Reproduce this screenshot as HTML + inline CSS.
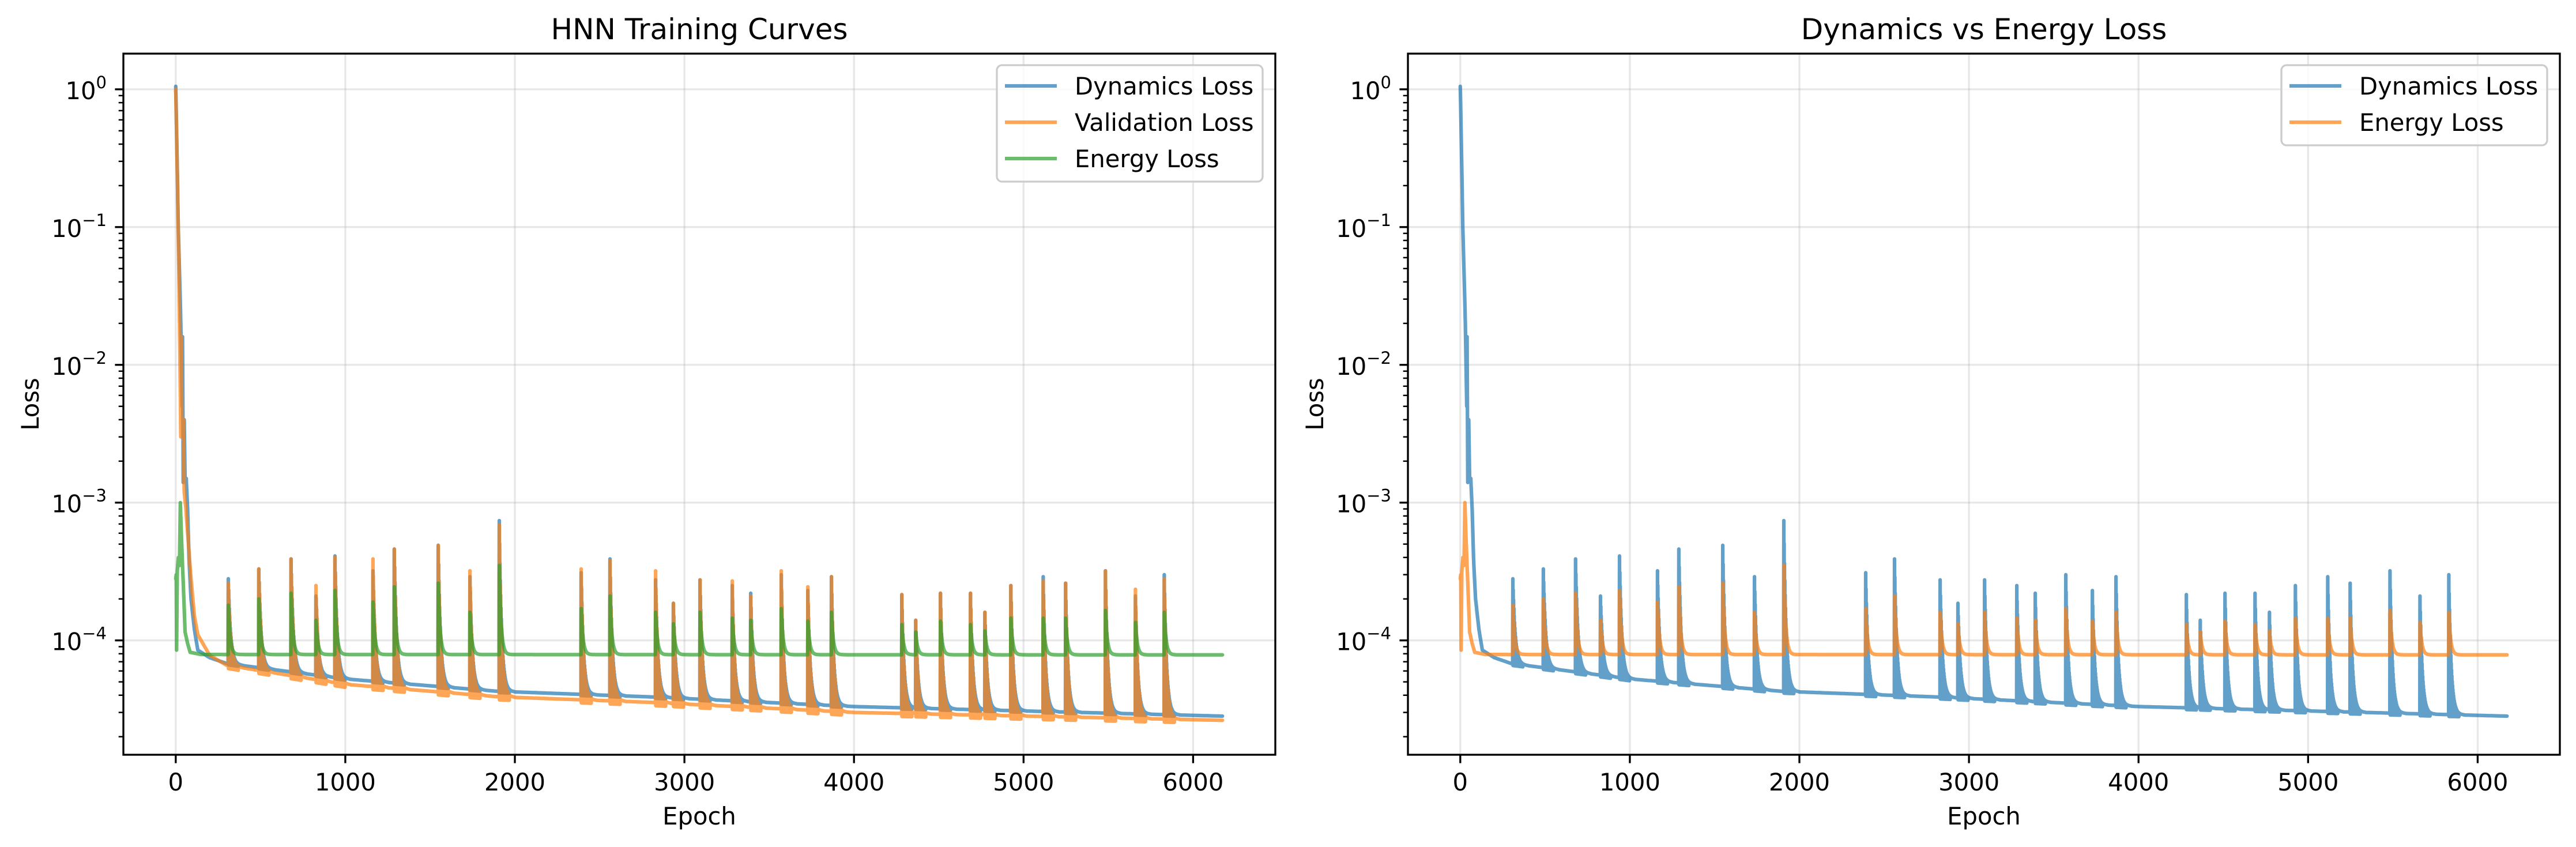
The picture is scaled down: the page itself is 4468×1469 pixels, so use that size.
<!DOCTYPE html>
<html><head><meta charset="utf-8"><title>HNN Training Curves</title>
<style>
html,body{margin:0;padding:0;background:#fff;}
svg{display:block;font-family:"DejaVu Sans","Liberation Sans",sans-serif;}
</style></head>
<body>
<svg id="fig" xmlns="http://www.w3.org/2000/svg" width="4468" height="1469" viewBox="0 0 4468 1469">
<rect width="4468" height="1469" fill="#fff"/>
</svg>
<script>
// ---- data ----
const spikeEpochs = [310,490,680,827,939,1163,1289,1548,1735,1908,2391,2561,2830,2935,3092,3282,3391,3571,3728,3867,4282,4364,4510,4687,4772,4925,5116,5248,5483,5660,5830];
const dynPeaks = [2.8e-4,3.3e-4,3.9e-4,2.1e-4,4.1e-4,3.2e-4,4.6e-4,4.9e-4,2.9e-4,7.4e-4,3.1e-4,3.9e-4,2.75e-4,1.86e-4,2.75e-4,2.5e-4,2.2e-4,3.0e-4,2.3e-4,2.9e-4,2.15e-4,1.4e-4,2.2e-4,2.2e-4,1.6e-4,2.5e-4,2.9e-4,2.6e-4,3.2e-4,2.1e-4,3.0e-4];
const valPeaks = [2.6e-4,3.3e-4,3.9e-4,2.5e-4,4.0e-4,3.9e-4,4.6e-4,4.9e-4,3.2e-4,6.9e-4,3.3e-4,3.8e-4,3.2e-4,1.86e-4,2.75e-4,2.7e-4,2.1e-4,3.2e-4,2.45e-4,2.9e-4,2.15e-4,1.4e-4,2.2e-4,2.2e-4,1.6e-4,2.5e-4,2.7e-4,2.6e-4,3.2e-4,2.35e-4,2.8e-4];
const energyPeaks = [1.8e-4,2.0e-4,2.2e-4,1.4e-4,2.3e-4,1.9e-4,2.45e-4,2.6e-4,1.6e-4,3.5e-4,1.7e-4,2.1e-4,1.6e-4,1.32e-4,1.6e-4,1.45e-4,1.4e-4,1.7e-4,1.38e-4,1.6e-4,1.3e-4,1.15e-4,1.38e-4,1.3e-4,1.17e-4,1.45e-4,1.45e-4,1.45e-4,1.65e-4,1.35e-4,1.6e-4];
const dynKeyEpochs = [0,2,15,30,38,40,44,50,55,62,70,78,90,110,130,200,300,1000,1900,2800,4000,6176];
const dynKeyValues = [1.05,0.8,0.1,0.02,0.005,0.016,0.0014,0.004,0.0015,0.0015,0.0009,0.0004,0.0002,0.00012,0.000085,0.000075,0.000068,0.0000525,0.0000427,0.0000389,0.0000331,0.0000282];
const valKeyEpochs = [0,15,25,30,33,36,45,50,60,75,90,110,130,200,300,1000,1900,2800,4000,6176];
const valKeyValues = [1.0,0.1,0.01,0.003,0.016,0.003,0.004,0.0012,0.0009,0.0005,0.00028,0.00015,0.00011,0.000078,0.000066,0.000048,0.000039,0.0000355,0.000030,0.0000263];
const energyKeyEpochs = [0,3,5,9,16,22,27,33,40,48,55,70,85,150,6176];
const energyKeyValues = [2.8e-4,3e-4,8.5e-5,3.2e-4,4e-4,3.5e-4,1.0e-3,6e-4,3.5e-4,2e-4,1.15e-4,9.5e-5,8.2e-5,7.9e-5,7.85e-5];
const xTicks = [0,1000,2000,3000,4000,5000,6000];
const yTickExps = [0,-1,-2,-3,-4];
const lastEpoch = 6176;

// ---- layout ----
const NS = "http://www.w3.org/2000/svg";
const svg = document.getElementById('fig');
const FS = 41.7;
const X_MIN = -0.05*lastEpoch, X_MAX = 1.05*lastEpoch;
const L_MAX = 0.259, L_MIN = -4.83;
const C = {blue:'#1f77b4', orange:'#ff7f0e', green:'#2ca02c'};

function el(tag, attrs, parent){const e=document.createElementNS(NS,tag);for(const k in attrs)e.setAttribute(k,attrs[k]);(parent||svg).appendChild(e);return e;}

function interpLog(ke, kv, e){
  if(e<=ke[0]) return kv[0];
  for(let i=1;i<ke.length;i++){
    if(e<=ke[i]){const f=(e-ke[i-1])/(ke[i]-ke[i-1]);return Math.pow(10,Math.log10(kv[i-1])+f*(Math.log10(kv[i])-Math.log10(kv[i-1])));}
  }
  return kv[kv.length-1];
}
function seriesPoints(ke, kv, peaks, osc, tau, dip){
  const pts=[];
  let e=0;
  while(e<=lastEpoch){
    const b=interpLog(ke,kv,e);
    let v=b; let near=e<200;
    for(let i=0;i<spikeEpochs.length;i++){
      const t=e-spikeEpochs[i];
      if(t>=-6 && t<=90) near=true;
      if(t>=0 && t<=90){
        const lb=Math.log10(b), lp=Math.log10(peaks[i]);
        const env=Math.pow(10, lb+(lp-lb)*Math.exp(-t/tau));
        if(osc && t%2===1 && t<60){ v=Math.min(v,b*dip); }
        else v=Math.max(v,env);
      }
    }
    pts.push([e,v]);
    e+= near?1:4;
  }
  return pts;
}

function panel(p){
  const g=el('g',{});
  const xs=e=>p.x0+(e-X_MIN)/(X_MAX-X_MIN)*(p.x1-p.x0);
  const ys=v=>p.y0+(L_MAX-Math.log10(v))/(L_MAX-L_MIN)*(p.y1-p.y0);
  const grid=el('g',{},g);
  
  
  xTicks.forEach(t=>el('line',{x1:xs(t),x2:xs(t),y1:p.y0,y2:p.y1,stroke:'#b0b0b0','stroke-opacity':0.3,'stroke-width':3.3},grid));
  yTickExps.forEach(t=>el('line',{x1:p.x0,x2:p.x1,y1:ys(Math.pow(10,t)),y2:ys(Math.pow(10,t)),stroke:'#b0b0b0','stroke-opacity':0.3,'stroke-width':3.3},grid));
  const cid='clip'+p.id;
  const cp=el('clipPath',{id:cid},g);
  el('rect',{x:p.x0,y:p.y0,width:p.x1-p.x0,height:p.y1-p.y0},cp);
  const lines=el('g',{'clip-path':'url(#'+cid+')'},g);
  p.series.forEach(s=>{
    const pts=seriesPoints(s.ke,s.kv,s.peaks,s.osc,s.tau,s.dip);
    let d='';
    pts.forEach((q,i)=>{d+=(i?'L':'M')+xs(q[0]).toFixed(1)+','+ys(q[1]).toFixed(1);});
    const path=el('path',{d:d,fill:'none',stroke:s.color,'stroke-opacity':0.7,'stroke-width':6.25,'stroke-linejoin':'round','stroke-linecap':'round'},lines);
    
    
  });
  el('rect',{x:p.x0,y:p.y0,width:p.x1-p.x0,height:p.y1-p.y0,fill:'none',stroke:'#000','stroke-width':3.33,},g);
  xTicks.forEach(t=>{
    const x=xs(t);
    el('line',{x1:x,x2:x,y1:p.y1,y2:p.y1+14.6,stroke:'#000','stroke-width':3.33},g);
    const tx=el('text',{x:x,y:1371,'font-size':FS,'text-anchor':'middle',fill:'#000'},g);
    tx.textContent=String(t);
    
    
  });
  yTickExps.forEach(t=>{
    const y=ys(Math.pow(10,t));
    el('line',{x1:p.x0-14.6,x2:p.x0,y1:y,y2:y,stroke:'#000','stroke-width':3.33},g);
    const tx=el('text',{x:p.x0-29,y:y+17,'font-size':FS,'text-anchor':'end',fill:'#000'},g);
    
    
    const a=el('tspan',{},tx); a.textContent='10';
    const b=el('tspan',{dy:-19,'font-size':29}, tx); b.textContent= t===0?'0':'\u2212'+(-t);
  });
  for(let d=-5; d<=0; d++){
    for(let k=2;k<=9;k++){
      const v=k*Math.pow(10,d); const l=Math.log10(v);
      if(l<L_MIN||l>L_MAX) continue;
      const y=ys(v);
      el('line',{x1:p.x0-8.3,x2:p.x0,y1:y,y2:y,stroke:'#000','stroke-width':2.5},g);
    }
  }
  const tl=el('text',{x:(p.x0+p.x1)/2,y:68,'font-size':50,'text-anchor':'middle',fill:'#000'},g);
  tl.textContent=p.title;
  
  
  const xl=el('text',{x:(p.x0+p.x1)/2,y:1430,'font-size':FS,'text-anchor':'middle',fill:'#000'},g);
  xl.textContent='Epoch';
  
  
  const yc=(p.y0+p.y1)/2, yx=p.x0-147;
  const yl=el('text',{x:yx,y:yc,'font-size':FS,'text-anchor':'middle',fill:'#000',transform:'rotate(-90 '+yx+' '+yc+')'},g);
  yl.textContent='Loss';
  
  
  const lg=el('g',{},g);
  
  
  const lx0=p.x1-483, lx1=p.x1-22;
  const lh=p.series.length*63+13;
  el('rect',{x:lx0,y:113,width:lx1-lx0,height:lh,rx:9,fill:'#fff','fill-opacity':0.8,stroke:'#cccccc','stroke-width':3.3},lg);
  p.series.forEach((s,i)=>{
    const y=149+i*63;
    const ent=el('g',{},lg);
    
    
    el('line',{x1:lx0+14,x2:lx0+104,y1:y,y2:y,stroke:s.color,'stroke-opacity':0.7,'stroke-width':6.25},ent);
    const t=el('text',{x:lx0+135,y:y+15,'font-size':FS,fill:'#000'},ent);
    t.textContent=s.label;
  });
}

panel({id:'L',name:'hnn-training-curves-panel',title:'HNN Training Curves',x0:214,x1:2212,y0:93,y1:1309,series:[
  {ke:dynKeyEpochs,kv:dynKeyValues,peaks:dynPeaks,osc:true,tau:14,dip:0.98,color:C.blue,label:'Dynamics Loss',dname:'dynamics-loss-line'},
  {ke:valKeyEpochs,kv:valKeyValues,peaks:valPeaks,osc:true,tau:14,dip:0.95,color:C.orange,label:'Validation Loss',dname:'validation-loss-line'},
  {ke:energyKeyEpochs,kv:energyKeyValues,peaks:energyPeaks,osc:false,tau:11,dip:1,color:C.green,label:'Energy Loss',dname:'energy-loss-line'}
]});
panel({id:'R',name:'dynamics-vs-energy-panel',title:'Dynamics vs Energy Loss',x0:2442,x1:4440,y0:93,y1:1309,series:[
  {ke:dynKeyEpochs,kv:dynKeyValues,peaks:dynPeaks,osc:true,tau:14,dip:0.97,color:C.blue,label:'Dynamics Loss',dname:'dynamics-loss-line'},
  {ke:energyKeyEpochs,kv:energyKeyValues,peaks:energyPeaks,osc:false,tau:11,dip:1,color:C.orange,label:'Energy Loss',dname:'energy-loss-line'}
]});
</script>
</body></html>
